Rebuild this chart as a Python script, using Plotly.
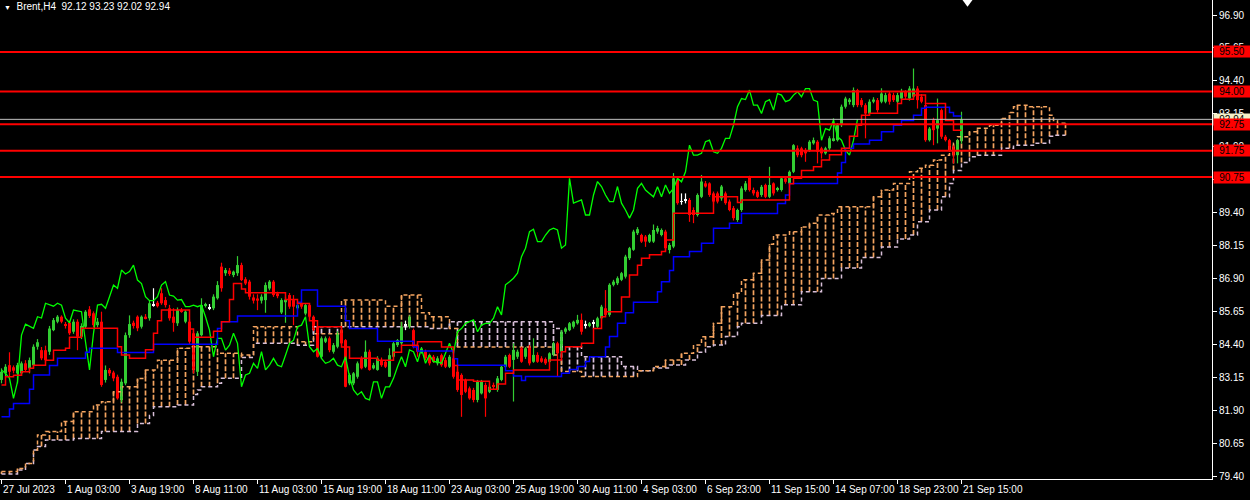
import numpy as np
import plotly.graph_objects as go

# ---------------- data ----------------
opens = [
83.05,83.30,83.61,83.53,83.30,83.30,83.68,83.49,83.61,84.31,
84.18,84.18,84.12,84.94,85.26,85.45,85.14,85.22,84.88,85.26,
84.69,85.07,85.73,85.58,85.13,85.26,83.05,83.43,83.33,83.17,
82.29,82.92,84.75,85.22,85.45,85.07,85.45,85.39,85.90,85.98,
86.34,86.08,85.77,85.45,85.20,85.70,85.26,85.26,84.82,83.36,
84.75,85.89,85.77,85.77,86.15,87.35,87.10,87.20,87.03,87.10,
87.41,86.87,86.78,86.18,86.14,86.06,86.08,86.52,86.78,86.33,
85.61,86.00,86.27,86.08,85.77,85.95,85.57,85.89,85.45,85.07,
83.93,84.50,84.63,84.12,84.31,84.94,84.56,82.92,82.92,83.17,
83.87,83.55,84.12,83.49,83.43,83.80,83.74,83.17,83.93,84.37,
84.44,85.13,85.07,84.94,84.37,84.12,84.12,83.99,83.93,83.68,
83.99,83.80,83.55,83.87,83.36,83.24,83.05,82.73,82.67,82.29,
82.54,82.86,82.60,82.86,82.67,83.05,83.55,84.00,83.81,83.93,
84.25,83.93,84.31,83.74,84.00,83.87,83.84,83.74,84.00,84.44,
84.12,84.88,84.94,85.07,85.20,85.33,85.13,85.13,85.20,85.07,
85.39,85.77,85.52,86.66,86.72,86.85,86.97,87.67,87.99,88.62,
88.55,88.49,88.30,88.30,88.68,88.55,88.68,87.98,88.11,90.64,
89.82,89.88,89.88,89.50,89.31,90.00,90.51,90.51,90.13,90.13,
89.94,90.13,89.82,89.57,89.12,89.50,90.26,90.77,90.26,90.19,
90.07,90.45,90.00,90.51,90.26,90.26,90.70,90.51,90.95,91.84,
91.84,91.77,91.77,92.03,92.09,91.84,91.65,91.84,92.15,92.15,
92.72,93.42,93.60,93.48,94.05,93.67,93.48,93.16,93.61,93.67,
93.61,93.61,93.92,93.86,93.61,93.73,93.99,93.73,93.80,94.11,
93.80,93.48,92.15,92.91,92.59,93.29,92.28,92.15,91.90,91.58,
92.12]

highs = [
83.49,83.65,84.10,83.60,83.70,83.75,83.80,83.90,84.40,84.60,
84.30,84.35,85.10,85.40,85.51,85.50,85.25,85.30,85.35,85.35,
85.20,85.70,85.85,85.65,85.40,85.64,83.60,83.50,83.40,83.25,
83.10,84.85,85.50,85.30,85.50,85.50,85.55,86.05,86.53,86.05,
86.53,86.20,85.90,85.77,85.80,85.78,85.70,85.35,84.90,84.90,
86.15,85.98,85.93,86.30,86.80,87.50,87.30,87.30,87.20,87.75,
87.50,86.95,86.85,86.30,86.30,86.30,86.75,86.84,86.84,86.40,
86.15,86.20,86.35,86.27,85.95,86.00,85.95,85.95,85.50,85.10,
84.70,84.70,84.70,84.45,84.90,85.00,84.60,83.30,83.35,83.75,
83.95,84.55,84.20,83.70,83.95,83.90,83.80,84.25,84.50,84.60,
85.25,85.30,85.50,85.00,84.45,84.30,84.20,84.05,84.00,83.95,
84.05,83.90,84.00,83.95,83.45,83.30,83.10,82.80,82.75,83.05,
83.05,82.95,82.85,82.95,83.20,83.60,84.00,84.05,84.44,84.20,
84.30,84.30,84.38,84.63,84.10,83.95,83.90,84.10,84.50,84.50,
84.95,85.05,85.25,85.30,85.52,85.57,85.30,85.25,85.33,85.45,
85.90,86.46,86.72,86.85,86.98,87.15,87.80,88.10,88.75,88.85,
88.60,88.55,88.60,88.95,88.90,88.80,88.75,88.25,90.90,90.70,
90.13,90.13,89.95,89.60,90.13,90.83,90.60,90.55,90.20,90.20,
90.45,90.20,89.90,89.65,89.55,90.40,90.60,90.80,90.35,90.25,
90.45,90.50,91.14,90.55,90.38,90.75,90.76,91.00,92.00,91.95,
91.90,91.85,92.15,92.25,92.15,91.90,91.90,92.30,92.98,92.80,
93.50,93.80,93.75,94.15,94.10,93.75,93.55,93.70,93.78,93.75,
94.12,93.95,94.00,93.95,93.95,94.10,94.05,94.20,94.87,94.20,
93.90,93.55,92.65,93.00,93.73,93.35,92.35,92.20,91.95,92.20,
93.23]

lows = [
82.92,83.20,83.17,83.30,82.92,83.20,83.35,83.30,83.50,84.20,
83.80,83.70,84.00,84.90,85.20,85.20,85.00,84.75,84.80,84.18,
84.60,85.00,85.40,85.05,85.05,82.79,82.95,83.20,83.00,82.30,
82.20,82.85,84.65,85.00,84.90,85.00,85.35,85.30,85.83,85.80,
85.90,85.80,85.30,84.88,85.10,85.60,85.20,84.40,83.30,83.20,
84.70,85.80,85.70,85.70,86.10,86.40,87.00,87.00,86.95,87.00,
86.80,86.65,86.10,85.95,85.70,85.95,85.60,86.45,86.20,86.15,
85.55,85.22,85.75,85.13,85.70,85.75,85.50,85.40,84.90,83.90,
83.85,84.45,84.10,84.05,84.25,84.40,82.77,82.85,82.85,83.10,
83.45,83.50,83.40,83.45,83.40,83.55,83.50,83.17,83.90,84.30,
84.35,84.94,85.00,84.25,83.93,84.05,83.80,83.60,83.70,83.60,
83.55,83.50,83.50,83.10,82.60,81.65,82.55,82.30,82.20,82.20,
82.50,81.65,82.55,82.70,82.60,83.00,83.50,83.50,82.23,83.85,
83.70,83.85,83.60,83.70,83.70,83.70,83.62,83.70,83.95,83.20,
84.05,84.80,84.90,85.00,85.15,84.77,85.00,85.05,84.98,85.00,
85.35,85.45,85.45,86.60,86.65,86.80,86.90,87.60,87.95,88.55,
88.25,88.10,88.25,88.25,88.60,88.50,87.95,87.85,88.05,89.70,
89.70,89.75,89.05,89.00,89.25,89.95,90.35,90.00,89.75,89.75,
89.85,89.70,89.45,89.10,89.05,89.43,90.20,90.20,90.05,89.95,
90.00,89.95,89.95,90.05,90.20,90.20,90.50,90.45,90.90,91.50,
91.50,91.33,91.70,91.98,91.27,91.45,91.60,91.78,92.10,92.10,
92.65,93.35,93.50,93.40,93.40,93.40,92.22,93.10,93.55,93.20,
93.55,93.55,93.50,93.60,93.55,93.65,93.70,93.65,93.75,93.35,
93.55,92.09,92.10,91.96,92.03,92.20,92.10,91.70,91.27,91.27,
92.02]

closes = [
83.36,83.55,83.36,83.40,83.61,83.68,83.43,83.80,84.31,84.48,
83.87,83.80,85.00,85.32,85.45,85.26,85.13,84.82,85.26,84.69,
85.10,85.64,85.48,85.13,85.26,82.86,83.43,83.30,83.11,82.35,
82.98,84.75,85.17,85.10,85.01,85.45,85.40,85.96,85.90,85.85,
85.96,85.89,85.39,85.22,85.70,85.66,85.64,84.50,83.43,84.82,
85.89,85.92,85.77,86.21,86.65,86.53,87.22,87.07,87.16,87.41,
86.84,86.71,86.21,86.06,86.06,86.21,86.65,86.78,86.27,86.23,
86.08,86.10,85.83,85.83,85.89,85.83,85.89,85.45,84.94,83.93,
84.63,84.63,84.18,84.37,84.82,84.44,82.79,83.24,83.30,83.68,
83.49,84.12,83.43,83.61,83.87,83.61,83.55,83.99,84.44,84.56,
85.07,85.13,85.45,84.31,84.12,84.24,83.87,83.68,83.74,83.87,
83.61,83.55,83.93,83.17,82.67,82.48,82.60,82.35,82.29,82.98,
82.98,82.35,82.79,82.79,83.11,83.55,83.93,83.55,84.19,84.12,
83.74,84.25,83.68,84.00,83.74,83.74,83.68,84.06,84.44,84.06,
84.88,85.00,85.20,85.26,85.33,84.88,85.13,85.20,85.20,85.39,
85.83,85.52,86.66,86.78,86.91,87.10,87.73,88.05,88.68,88.77,
88.30,88.30,88.55,88.74,88.81,88.74,88.05,88.17,90.70,89.76,
89.82,89.88,89.31,89.31,90.07,90.58,90.39,90.07,89.82,89.82,
90.39,89.76,89.50,89.19,89.50,90.32,90.51,90.26,90.13,90.00,
90.38,90.00,90.45,90.13,90.32,90.70,90.57,90.95,91.96,91.58,
91.58,91.65,92.09,92.15,91.71,91.65,91.84,92.22,92.22,92.72,
93.42,93.73,93.69,94.05,93.48,93.48,93.16,93.61,93.69,93.29,
93.92,93.86,93.61,93.67,93.86,93.99,93.80,94.11,94.11,93.67,
93.61,92.15,92.59,92.53,92.91,92.28,92.15,91.77,91.58,92.15,
92.94]

# Ichimoku lines: (bar index, value) step breakpoints
tenkan_bars = [0,1,3,5,7,8,11,13,16,17,20,29,30,32,36,38,39,40,47,48,53,55,57,58,60,61,71,74,77,79,85,87,94,98,100,104,110,113,114,118,122,124,126,128,137,140,141,145,148,150,151,155,157,159,160,162,165,166,168,178,184,185,197,198,200,203,205,207,210,212,214,215,217,224,225,228,231,236,238,240]
tenkan_vals = [82.86,83.17,83.23,83.36,83.49,83.61,83.80,84.18,84.25,84.67,85.01,84.31,84.00,83.87,84.20,84.82,85.30,85.70,84.98,84.67,84.90,85.26,86.10,86.71,86.50,86.36,86.10,85.95,85.30,85.07,84.30,83.87,83.80,84.10,84.37,84.50,84.30,83.60,83.05,83.00,82.70,82.90,83.30,83.43,83.81,84.12,84.31,84.44,85.00,85.45,85.64,86.20,87.03,87.40,87.67,87.80,87.92,88.36,89.38,90.00,89.78,89.88,90.50,90.70,91.00,91.14,91.40,91.60,91.84,92.30,92.72,93.10,93.17,93.54,93.70,93.86,93.54,92.90,92.53,92.53]

kijun_bars = [0,2,3,7,8,12,14,21,22,29,38,54,55,59,74,75,79,86,87,94,103,104,113,114,126,128,130,131,140,142,144,146,147,151,152,154,156,158,164,165,167,168,172,175,178,182,185,194,196,197,209,210,211,213,217,220,223,225,228,230,231,237,238,240]
kijun_vals = [81.65,81.95,82.16,82.70,83.24,83.60,83.87,84.10,84.25,84.09,84.40,85.00,85.26,85.48,86.00,86.46,85.85,85.30,85.00,84.52,84.30,84.15,83.85,83.61,83.40,83.20,83.03,83.18,83.30,83.45,83.56,83.75,83.93,84.30,84.70,85.20,85.60,86.00,86.40,86.78,87.20,87.73,87.92,88.24,88.81,89.00,89.37,89.75,90.07,90.51,90.90,91.30,91.84,92.00,92.15,92.47,92.72,92.90,93.10,93.36,93.40,93.20,93.07,93.07]

span_a_bars = [0,4,6,8,9,11,15,18,23,25,28,30,34,36,39,44,47,54,60,63,74,78,85,96,100,105,107,112,114,138,140,145,159,163,166,170,173,175,178,180,183,185,188,190,192,193,197,200,202,204,207,209,218,220,223,227,229,231,233,235,237,238,239,242,244,247,250,252,253,254,257,262,263,264,266]
span_a_vals = [79.57,79.69,79.88,80.39,80.96,81.09,81.47,81.84,82.10,82.22,82.60,82.79,83.10,83.43,83.80,84.25,84.31,84.06,84.00,85.07,84.50,84.80,86.08,85.85,86.27,85.60,85.45,85.00,84.30,84.00,83.37,83.18,83.40,83.56,83.81,84.06,84.38,84.69,85.20,85.83,86.34,86.85,87.10,87.60,88.20,88.55,88.67,88.85,89.00,89.31,89.37,89.62,90.00,90.26,90.51,90.95,91.08,91.20,91.40,91.58,91.90,92.03,92.28,92.47,92.60,92.72,92.97,93.20,93.42,93.48,93.42,93.10,92.90,92.79,92.79]

span_b_bars = [0,4,6,8,9,11,18,25,34,37,38,44,48,49,50,54,55,60,63,74,78,85,107,112,138,140,145,155,159,163,167,171,174,176,178,181,184,185,190,195,200,205,210,215,220,224,227,229,232,235,237,238,240,242,244,250,253,258,262,263,266]
span_b_vals = [79.48,79.63,79.88,80.39,80.52,80.77,80.83,81.09,81.40,81.70,82.03,82.10,82.50,82.67,82.79,82.92,83.11,83.90,84.44,84.37,85.07,85.07,85.00,85.26,85.00,84.31,83.93,83.56,83.40,83.50,83.62,83.81,84.10,84.31,84.38,84.70,85.07,85.20,85.50,85.90,86.40,86.90,87.30,87.70,88.10,88.40,88.55,89.05,89.50,90.00,90.51,91.00,91.30,91.52,91.58,91.84,91.96,92.03,92.30,92.34,92.34]

CHIKOU_SHIFT = 26
levels = [95.50, 94.00, 92.75, 91.75, 90.75]
bid = 92.94
ytick_vals = [79.40, 80.65, 81.90, 83.15, 84.40, 85.65, 86.90, 88.15, 89.40, 90.65, 91.90, 93.15, 94.40, 95.65, 96.90]
xtick_bars = [0, 16, 32, 48, 64, 80, 96, 112, 128, 144, 160, 176, 192, 208, 224, 240]
xtick_text = ["27 Jul 2023", "1 Aug 03:00", "3 Aug 19:00", "8 Aug 11:00", "11 Aug 03:00",
              "15 Aug 19:00", "18 Aug 11:00", "23 Aug 03:00", "25 Aug 19:00", "30 Aug 11:00",
              "4 Sep 03:00", "6 Sep 23:00", "11 Sep 15:00", "14 Sep 07:00", "18 Sep 23:00",
              "21 Sep 15:00"]
header = "Brent,H4&nbsp;&nbsp;92.12 93.23 92.02 92.94"

# ---------------- figure ----------------
FONT = "Liberation Sans"
BULL, BEAR, DOJI = "#32CD32", "#FF0000", "#FFFFFF"
SANDY, THISTLE = "#F4A460", "#D8BFD8"

n = len(closes)
idx = np.arange(n)
o, h, l, c = map(np.array, (opens, highs, lows, closes))

fig = go.Figure()

# --- cloud hatch (vertical dotted strokes every 2nd bar) ---
a_b = np.array(span_a_bars); a_v = np.array(span_a_vals)
b_b = np.array(span_b_bars); b_v = np.array(span_b_vals)
last = int(max(a_b[-1], b_b[-1]))
up_x, up_y, dn_x, dn_y = [], [], [], []
for i in range(0, last + 1, 2):
    av = float(a_v[np.searchsorted(a_b, i, side="right") - 1])
    bv = float(b_v[np.searchsorted(b_b, i, side="right") - 1])
    if abs(av - bv) < 0.04:
        continue
    if av > bv:
        up_x += [i, i, None]; up_y += [bv, av, None]
    else:
        dn_x += [i, i, None]; dn_y += [av, bv, None]
fig.add_trace(go.Scatter(x=up_x, y=up_y, mode="lines",
                         line=dict(color=SANDY, width=1.7, dash="5px,2px"), hoverinfo="skip"))
fig.add_trace(go.Scatter(x=dn_x, y=dn_y, mode="lines",
                         line=dict(color=THISTLE, width=1.7, dash="5px,2px"), hoverinfo="skip"))
fig.add_trace(go.Scatter(x=span_b_bars, y=span_b_vals, mode="lines", line_shape="hv",
                         line=dict(color=THISTLE, width=1.5, dash="4px,3px"), hoverinfo="skip"))
fig.add_trace(go.Scatter(x=span_a_bars, y=span_a_vals, mode="lines", line_shape="hv",
                         line=dict(color=SANDY, width=1.5, dash="4px,3px"), hoverinfo="skip"))

# --- candles ---
col = np.where(c > o, BULL, np.where(c < o, BEAR, DOJI))
for cc in (BULL, BEAR, DOJI):
    xs, ys = [], []
    for i in idx[col == cc]:
        xs += [int(i), int(i), None]
        ys += [float(l[i]), float(h[i]), None]
    fig.add_trace(go.Scatter(x=xs, y=ys, mode="lines", line=dict(color=cc, width=1.2),
                             hoverinfo="skip"))
body = np.maximum(np.abs(c - o), 0.03)
base = np.where(np.abs(c - o) < 0.03, o - 0.015, np.minimum(o, c))
fig.add_trace(go.Bar(x=idx, y=body, base=base, width=0.75,
                     marker=dict(color=list(col), line=dict(width=0)), hoverinfo="skip"))

# --- ichimoku lines ---
fig.add_trace(go.Scatter(x=idx[CHIKOU_SHIFT:] - CHIKOU_SHIFT, y=c[CHIKOU_SHIFT:], mode="lines",
                         line=dict(color="#00FF00", width=1.3), hoverinfo="skip"))
fig.add_trace(go.Scatter(x=kijun_bars, y=kijun_vals, mode="lines", line_shape="hv",
                         line=dict(color="#0000FF", width=1.5), hoverinfo="skip"))
fig.add_trace(go.Scatter(x=tenkan_bars, y=tenkan_vals, mode="lines", line_shape="hv",
                         line=dict(color="#FF0000", width=1.5), hoverinfo="skip"))

# --- horizontal levels ---
shapes = [dict(type="line", xref="paper", x0=0, x1=1, yref="y", y0=bid, y1=bid,
               line=dict(color="#C0C0C0", width=1), layer="above")]
for lv in levels:
    shapes.append(dict(type="line", xref="paper", x0=0, x1=1, yref="y", y0=lv, y1=lv,
                       line=dict(color="#FF0000", width=2), layer="above"))
# chart-shift marker at the top
shapes.append(dict(type="path", xref="x", yref="paper",
                   path="M 240.25 1 L 242.75 1 L 241.5 0.986 Z",
                   fillcolor="#FFFFFF", line=dict(width=0)))

annotations = []
annotations.append(dict(x=1, xref="paper", xanchor="left", xshift=1, y=bid, yref="y",
                        text=f"{bid:.2f}", showarrow=False, bgcolor="#F5F0C8",
                        font=dict(family=FONT, size=10, color="#000000"),
                        width=36, height=11, borderpad=0))
for lv in levels:
    annotations.append(dict(x=1, xref="paper", xanchor="left", xshift=1, y=lv, yref="y",
                            text=f"{lv:.2f}", showarrow=False, bgcolor="#FF0000",
                            font=dict(family=FONT, size=10, color="#000000"),
                            width=36, height=11, borderpad=0))
for b, t in zip(xtick_bars, xtick_text):
    annotations.append(dict(x=b, xref="x", xanchor="left", xshift=-1, y=0, yref="paper",
                            yanchor="top", yshift=-3, text=t, showarrow=False,
                            font=dict(family=FONT, size=10, color="#FFFFFF")))
annotations.append(dict(x=0, xref="paper", xanchor="left", xshift=2, y=1, yref="paper",
                        yanchor="top", yshift=1,
                        text="<span style='font-size:7px'>▼</span>&nbsp;&nbsp;" + header,
                        showarrow=False, font=dict(family=FONT, size=10, color="#FFFFFF")))

fig.update_layout(
    width=1250, height=500,
    margin=dict(l=0, r=38, t=0, b=21, autoexpand=False),
    paper_bgcolor="#000000", plot_bgcolor="#000000",
    showlegend=False, barmode="overlay",
    shapes=shapes, annotations=annotations,
    xaxis=dict(range=[-0.375, 302.625], showgrid=False, zeroline=False, automargin=False,
               showline=True, linecolor="#FFFFFF", linewidth=1,
               ticks="outside", tickvals=xtick_bars, ticklen=4, tickcolor="#FFFFFF",
               showticklabels=False, fixedrange=True),
    yaxis=dict(range=[79.29, 97.47], side="right", showgrid=False, zeroline=False,
               automargin=False,
               showline=True, linecolor="#FFFFFF", linewidth=1,
               ticks="outside", ticklen=4, tickcolor="#FFFFFF",
               tickvals=ytick_vals, ticktext=[f"{v:.2f}" for v in ytick_vals],
               tickfont=dict(family=FONT, size=10, color="#FFFFFF"), fixedrange=True),
)

fig.write_html("out.html", config={"displayModeBar": False},
               post_script="document.body.style.margin='0';document.body.style.background='#000';")
